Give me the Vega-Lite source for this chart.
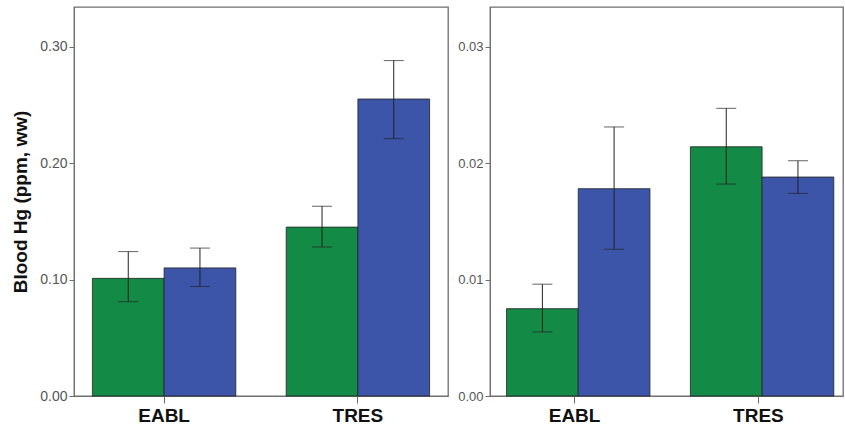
{
  "$schema": "https://vega.github.io/schema/vega-lite/v6.json",
  "background": "white",
  "padding": {"left": 11, "top": 6, "right": 2, "bottom": 2},
  "datasets": {
    "left": [
      {"site": "EABL", "grp": "A", "mean": 0.101, "lo": 0.081, "hi": 0.124},
      {"site": "EABL", "grp": "B", "mean": 0.110, "lo": 0.094, "hi": 0.127},
      {"site": "TRES", "grp": "A", "mean": 0.145, "lo": 0.128, "hi": 0.163},
      {"site": "TRES", "grp": "B", "mean": 0.255, "lo": 0.221, "hi": 0.288}
    ],
    "right": [
      {"site": "EABL", "grp": "A", "mean": 0.0075, "lo": 0.0055, "hi": 0.0096},
      {"site": "EABL", "grp": "B", "mean": 0.0178, "lo": 0.0126, "hi": 0.0231},
      {"site": "TRES", "grp": "A", "mean": 0.0214, "lo": 0.0182, "hi": 0.0247},
      {"site": "TRES", "grp": "B", "mean": 0.0188, "lo": 0.0174, "hi": 0.0202}
    ]
  },
  "config": {
    "view": {"stroke": "#6e6e6e", "strokeWidth": 1.3},
    "axis": {"grid": false, "labelFont": "Liberation Sans", "titleFont": "Liberation Sans", "domainColor": "#6e6e6e", "tickColor": "#6e6e6e", "labelColor": "#555555"},
    "concat": {"spacing": 8}
  },
  "hconcat": [
    {
      "width": 374, "height": 389,
      "data": {"name": "left"},
      "encoding": {
        "x": {"field": "site", "type": "nominal", "scale": {"paddingInner": 0.26, "paddingOuter": 0.095}, "axis": {"title": null, "labelAngle": 0, "labelFontSize": 19, "labelFontWeight": "bold", "labelColor": "#111111", "tickSize": 7, "labelPadding": 3}},
        "xOffset": {"field": "grp", "type": "nominal", "scale": {"paddingInner": 0, "paddingOuter": 0}}
      },
      "layer": [
        {"mark": {"type": "bar", "stroke": "#222222", "strokeWidth": 0.8},
         "encoding": {
           "y": {"field": "mean", "type": "quantitative", "scale": {"domain": [0, 0.334], "nice": false, "zero": true}, "axis": {"values": [0, 0.1, 0.2, 0.3], "format": ".2f", "title": "Blood Hg (ppm, ww)", "titleFontSize": 19, "titleFontWeight": "bold", "titleColor": "#111111", "titlePadding": 9, "tickSize": 5, "labelFontSize": 14, "labelPadding": 2}},
           "color": {"field": "grp", "type": "nominal", "scale": {"domain": ["A", "B"], "range": ["#138a45", "#3d55a8"]}, "legend": null}
         }},
        {"mark": {"type": "rule", "color": "#222222", "strokeWidth": 1}, "encoding": {"y": {"field": "lo", "type": "quantitative"}, "y2": {"field": "hi"}}},
        {"mark": {"type": "tick", "color": "#222222", "size": 20, "thickness": 1}, "encoding": {"y": {"field": "lo", "type": "quantitative"}}},
        {"mark": {"type": "tick", "color": "#222222", "size": 20, "thickness": 1}, "encoding": {"y": {"field": "hi", "type": "quantitative"}}}
      ]
    },
    {
      "width": 353, "height": 389,
      "data": {"name": "right"},
      "encoding": {
        "x": {"field": "site", "type": "nominal", "scale": {"paddingInner": 0.26, "paddingOuter": 0.09}, "axis": {"title": null, "labelAngle": 0, "labelFontSize": 19, "labelFontWeight": "bold", "labelColor": "#111111", "tickSize": 7, "labelPadding": 3}},
        "xOffset": {"field": "grp", "type": "nominal", "scale": {"paddingInner": 0, "paddingOuter": 0}}
      },
      "layer": [
        {"mark": {"type": "bar", "stroke": "#222222", "strokeWidth": 0.8},
         "encoding": {
           "y": {"field": "mean", "type": "quantitative", "scale": {"domain": [0, 0.0334], "nice": false, "zero": true}, "axis": {"values": [0, 0.01, 0.02, 0.03], "format": ".2f", "title": null, "tickSize": 5, "labelFontSize": 13, "labelPadding": 2}},
           "color": {"field": "grp", "type": "nominal", "scale": {"domain": ["A", "B"], "range": ["#138a45", "#3d55a8"]}, "legend": null}
         }},
        {"mark": {"type": "rule", "color": "#222222", "strokeWidth": 1}, "encoding": {"y": {"field": "lo", "type": "quantitative"}, "y2": {"field": "hi"}}},
        {"mark": {"type": "tick", "color": "#222222", "size": 20, "thickness": 1}, "encoding": {"y": {"field": "lo", "type": "quantitative"}}},
        {"mark": {"type": "tick", "color": "#222222", "size": 20, "thickness": 1}, "encoding": {"y": {"field": "hi", "type": "quantitative"}}}
      ]
    }
  ]
}
